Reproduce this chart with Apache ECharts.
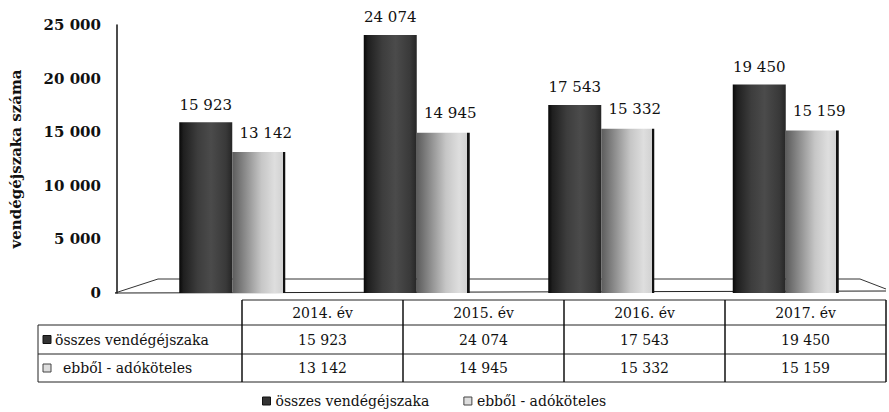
<!DOCTYPE html>
<html>
<head>
<meta charset="utf-8">
<script src="https://cdn.jsdelivr.net/npm/echarts@6/dist/echarts.min.js"></script>
<style>
  html, body { margin: 0; padding: 0; background: #fff; }
  #chart { width: 889px; height: 412px; }
</style>
</head>
<body>
<div id="chart"></div>
<script>
// data
const years = ['2014. év', '2015. év', '2016. év', '2017. év'];
const seriesNames = ['összes vendégéjszaka', 'ebből - adóköteles'];
const osszes = [15923, 24074, 17543, 19450];
const adokoteles = [13142, 14945, 15332, 15159];
const yTicks = [0, 5000, 10000, 15000, 20000, 25000];

const FONT = 'DejaVu Serif';

// layout of plot and table
const grid = { left: 138, right: 11, top: 25, bottom: 119 };
const axisX = 115;
const zeroY = 412 - grid.bottom;
const table = { top: 300, rows: [325, 354, 382], labelLeft: 38, colLeft: 242, colW: 161 };

function fmt(v) {
  return String(v).replace(/\B(?=(\d{3})+(?!\d))/g, ' ');
}

const darkFill = new echarts.graphic.LinearGradient(0, 0, 1, 0, [
  { offset: 0, color: '#080808' },
  { offset: 0.08, color: '#1f1f1f' },
  { offset: 0.35, color: '#3d3d3d' },
  { offset: 0.6, color: '#4b4b4b' },
  { offset: 0.88, color: '#393939' },
  { offset: 1, color: '#262626' }
]);
const lightFill = new echarts.graphic.LinearGradient(0, 0, 1, 0, [
  { offset: 0, color: '#5c5c5c' },
  { offset: 0.25, color: '#8c8c8c' },
  { offset: 0.55, color: '#c6c6c6' },
  { offset: 0.8, color: '#dedede' },
  { offset: 0.95, color: '#d2d2d2' },
  { offset: 0.955, color: '#111' },
  { offset: 1, color: '#111' }
]);

// table + floor drawn as graphic elements
function buildGraphics() {
  const g = [];
  const lineStyle = { stroke: '#222', lineWidth: 1 };
  const right = table.colLeft + table.colW * years.length;

  // 3D floor
  g.push({ type: 'polyline', z: 1, silent: true,
    shape: { points: [[axisX, zeroY], [axisX + 43, zeroY - 14], [right - 26, zeroY - 14], [right, zeroY - 4]] },
    style: { stroke: '#333', lineWidth: 1, fill: null } });
  g.push({ type: 'line', z: 1, silent: true,
    shape: { x1: axisX, y1: zeroY, x2: right, y2: zeroY - 2 }, style: lineStyle });

  // horizontal lines
  g.push({ type: 'line', silent: true, shape: { x1: table.colLeft, y1: table.top, x2: right, y2: table.top }, style: lineStyle });
  table.rows.forEach(y => {
    g.push({ type: 'line', silent: true, shape: { x1: table.labelLeft, y1: y, x2: right, y2: y }, style: lineStyle });
  });
  // vertical lines
  g.push({ type: 'line', silent: true, shape: { x1: table.labelLeft, y1: table.rows[0], x2: table.labelLeft, y2: table.rows[2] }, style: lineStyle });
  for (let i = 0; i <= years.length; i++) {
    const x = table.colLeft + i * table.colW;
    g.push({ type: 'line', silent: true, shape: { x1: x, y1: table.top, x2: x, y2: table.rows[2] }, style: { stroke: '#111', lineWidth: 1.5 } });
  }

  const txt = (x, y, text, align) => ({
    type: 'text', silent: true, x, y,
    style: { text, fontFamily: FONT, fontSize: 14, fill: '#111', align: align || 'center', verticalAlign: 'middle' }
  });
  const rowMid = [
    (table.top + table.rows[0]) / 2,
    (table.rows[0] + table.rows[1]) / 2,
    (table.rows[1] + table.rows[2]) / 2
  ];
  years.forEach((y, i) => {
    const cx = table.colLeft + (i + 0.5) * table.colW;
    g.push(txt(cx, rowMid[0], y));
    g.push(txt(cx, rowMid[1], fmt(osszes[i])));
    g.push(txt(cx, rowMid[2], fmt(adokoteles[i])));
  });

  // row labels with series keys
  g.push({ type: 'rect', silent: true, shape: { x: 43, y: rowMid[1] - 4, width: 8, height: 8 },
    style: { fill: '#333', stroke: '#111', lineWidth: 1 } });
  g.push(txt(55, rowMid[1], seriesNames[0], 'left'));
  g.push({ type: 'rect', silent: true, shape: { x: 43, y: rowMid[2] - 4, width: 8, height: 8 },
    style: { fill: '#ddd', stroke: '#444', lineWidth: 1 } });
  g.push(txt(63, rowMid[2], seriesNames[1], 'left'));
  return g;
}

const chart = echarts.init(document.getElementById('chart'), null, { renderer: 'svg' });

const option = {
  backgroundColor: '#fff',
  animation: false,
  grid: grid,
  legend: {
    left: 257, top: 389,
    itemWidth: 8, itemHeight: 8, itemGap: 34,
    textStyle: { fontFamily: FONT, fontSize: 14, color: '#111' },
    data: [
      { name: seriesNames[0], icon: 'rect', itemStyle: { color: '#333', borderColor: '#111', borderWidth: 1 } },
      { name: seriesNames[1], icon: 'rect', itemStyle: { color: '#ddd', borderColor: '#444', borderWidth: 1 } }
    ]
  },
  xAxis: {
    type: 'category',
    data: years,
    axisLine: { show: false },
    axisTick: { show: false },
    axisLabel: { show: false }
  },
  yAxis: {
    type: 'value',
    min: yTicks[0],
    max: yTicks[yTicks.length - 1],
    interval: yTicks[1] - yTicks[0],
    offset: grid.left - axisX,
    name: 'vendégéjszaka száma',
    nameLocation: 'middle',
    nameGap: 94,
    nameTextStyle: { fontFamily: FONT, fontSize: 15, fontWeight: 'bold', color: '#111' },
    axisLine: { show: true, lineStyle: { color: '#111', width: 1.5 } },
    axisTick: { show: false },
    splitLine: { show: false },
    axisLabel: {
      margin: 16,
      fontFamily: FONT, fontSize: 15, fontWeight: 'bold', color: '#111',
      formatter: v => fmt(v)
    }
  },
  series: [
    {
      name: seriesNames[0],
      type: 'bar',
      data: osszes,
      barWidth: 53,
      barGap: '0%',
      itemStyle: { color: darkFill },
      label: {
        show: true, position: 'top', distance: 10,
        fontFamily: FONT, fontSize: 15, color: '#111',
        formatter: p => fmt(p.value)
      }
    },
    {
      name: seriesNames[1],
      type: 'bar',
      data: adokoteles,
      barWidth: 53,
      itemStyle: { color: lightFill },
      label: {
        show: true, position: 'top', distance: 10, offset: [7, -2],
        fontFamily: FONT, fontSize: 15, color: '#111',
        formatter: p => fmt(p.value)
      }
    }
  ],
  graphic: buildGraphics()
};

chart.setOption(option);
window.onresize = () => chart.resize();
</script>
</body>
</html>
